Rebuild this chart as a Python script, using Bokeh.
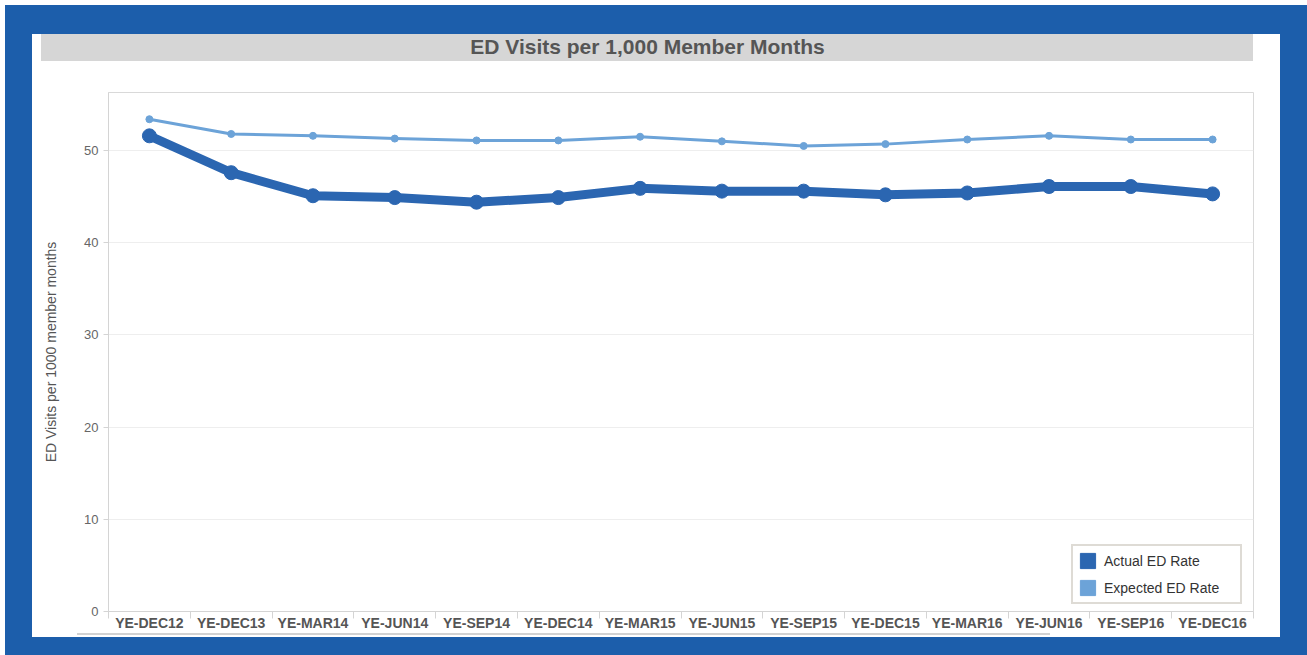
from bokeh.plotting import figure
from bokeh.layouts import column
from bokeh.models import (FactorRange, Range1d, LinearAxis, FixedTicker, Label, Legend,
                          LegendItem, Div)
from bokeh.embed import file_html
from bokeh.resources import INLINE

# ---- data ----
categories = ["YE-DEC12", "YE-DEC13", "YE-MAR14", "YE-JUN14", "YE-SEP14", "YE-DEC14",
              "YE-MAR15", "YE-JUN15", "YE-SEP15", "YE-DEC15", "YE-MAR16", "YE-JUN16",
              "YE-SEP16", "YE-DEC16"]
actual_rate = [51.6, 47.6, 45.1, 44.9, 44.4, 44.9, 45.9, 45.6, 45.6, 45.2, 45.4, 46.1, 46.1, 45.3]
expected_rate = [53.4, 51.8, 51.6, 51.3, 51.1, 51.1, 51.5, 51.0, 50.5, 50.7, 51.2, 51.6, 51.2, 51.2]
y_ticks = [0, 10, 20, 30, 40, 50]
series_names = ["Actual ED Rate", "Expected ED Rate"]
title_text = "ED Visits per 1,000 Member Months"
y_label = "ED Visits per 1000 member months"

# ---- style ----
FONT = "Liberation Sans"
C_ACTUAL = "#2b66b1"
C_EXPECTED = "#6ca3d8"
FRAME_BLUE = "#1c5eab"
BAR_GRAY = "#d6d6d6"

# title bar
title_fig = figure(width=1212, height=27, x_axis_type=None, y_axis_type=None,
                   x_range=Range1d(0, 1), y_range=Range1d(0, 1),
                   toolbar_location=None, output_backend="svg", min_border=0,
                   margin=(0, 0, 0, 9), styles={"background-color": BAR_GRAY})
title_fig.outline_line_color = None
title_fig.background_fill_alpha = 0
title_fig.border_fill_alpha = 0
title_fig.grid.visible = False
title_fig.add_layout(Label(x=606, y=12, x_units="canvas", y_units="canvas", text=title_text,
                           text_align="center", text_baseline="middle", text_font=FONT,
                           text_font_size="21px", text_font_style="bold",
                           text_color="#555555"))

# main chart
p = figure(width=1248, height=572, x_range=FactorRange(*categories), y_range=Range1d(0, 56.3),
           x_axis_type=None, output_backend="svg", toolbar_location=None,
           min_border_left=76, min_border_right=27, min_border_top=31, min_border_bottom=22)
p.border_fill_color = "white"
p.background_fill_color = "white"
p.outline_line_color = "#d9d9d9"
p.outline_line_width = 1

# y axis
ya = p.yaxis[0]
ya.ticker = FixedTicker(ticks=y_ticks)
ya.axis_label = y_label
ya.axis_label_text_font = FONT
ya.axis_label_text_font_size = "14px"
ya.axis_label_text_font_style = "normal"
ya.axis_label_text_color = "#555555"
ya.axis_label_standoff = 22
ya.major_label_text_font = FONT
ya.major_label_text_font_size = "13px"
ya.major_label_text_color = "#666666"
ya.major_label_standoff = 5
ya.major_tick_out = 5
ya.major_tick_in = 0
ya.minor_tick_line_color = None
ya.axis_line_color = "#d4d4d4"
ya.major_tick_line_color = "#d4d4d4"
p.ygrid.grid_line_color = "#eeeeee"

# x axis: labels at band centres, separators at band edges
n = len(categories)
xa = LinearAxis(ticker=FixedTicker(ticks=[i + 0.5 for i in range(n)],
                                   minor_ticks=list(range(n + 1))),
                major_label_overrides={i + 0.5: c for i, c in enumerate(categories)})
xa.major_tick_line_color = None
xa.major_tick_out = 0
xa.major_tick_in = 0
xa.minor_tick_out = 7
xa.minor_tick_in = 0
xa.minor_tick_line_color = "#d4d4d4"
xa.axis_line_color = "#d4d4d4"
xa.major_label_text_font = FONT
xa.major_label_text_font_size = "14px"
xa.major_label_text_font_style = "bold"
xa.major_label_text_color = "#555555"
xa.major_label_standoff = -4
p.add_layout(xa, "below")

# series
p.line(categories, expected_rate, line_width=3, color=C_EXPECTED, line_join="round")
p.scatter(categories, expected_rate, size=7, color=C_EXPECTED)
p.line(categories, actual_rate, line_width=9, color=C_ACTUAL, line_join="round")
p.scatter(categories, actual_rate, size=14, color=C_ACTUAL)

# legend swatches (hidden bar renderers used only for the legend squares)
sw_a = p.vbar(x=categories, top=actual_rate, width=0.5, fill_color=C_ACTUAL,
              line_color=C_ACTUAL, visible=False)
sw_e = p.vbar(x=categories, top=expected_rate, width=0.5, fill_color=C_EXPECTED,
              line_color=C_EXPECTED, visible=False)
legend = Legend(items=[LegendItem(label=series_names[0], renderers=[sw_a]),
                       LegendItem(label=series_names[1], renderers=[sw_e])],
                location=(963, 7), orientation="vertical",
                glyph_width=19, glyph_height=19, label_width=131, label_height=19,
                spacing=8, padding=5, margin=0, label_standoff=7,
                label_text_font=FONT, label_text_font_size="14px", label_text_color="#333333",
                border_line_color="#bdb7ab", border_line_width=2,
                background_fill_color="white", background_fill_alpha=1,
                inactive_fill_alpha=0, click_policy="none")
p.add_layout(legend, "center")

# thin grey scroll line under the axis labels
scroll = Div(text="", width=973, height=2, margin=(0, 0, 2, 45),
             styles={"background-color": "#d2d2d2"})

inner = column(title_fig, p, scroll, spacing=0, styles={"background-color": "white"})
outer = column(inner, spacing=0, margin=(5, 0, 0, 5),
               styles={"background-color": FRAME_BLUE, "padding": "29px 27px 18px 27px"})

open("out.html", "w").write(file_html(outer, INLINE))
